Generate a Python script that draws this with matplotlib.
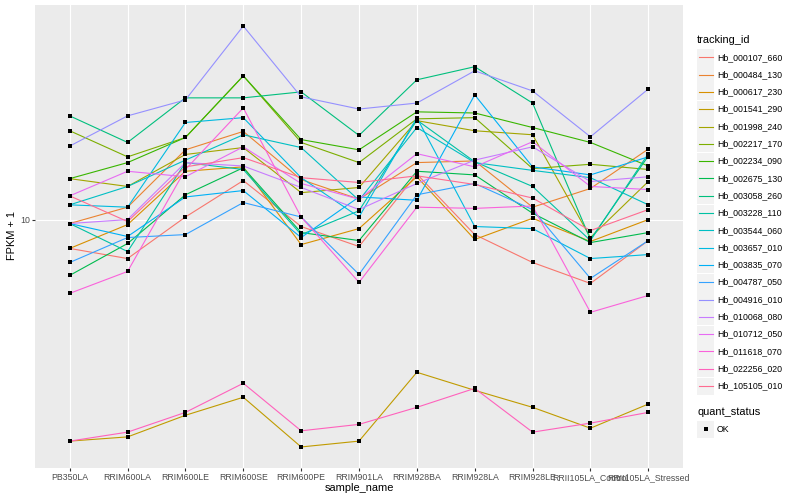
import numpy as np
import matplotlib
matplotlib.use("Agg")
import matplotlib.pyplot as plt
from matplotlib.patches import Rectangle
from matplotlib.lines import Line2D
from matplotlib.ticker import NullLocator

plt.rcParams['font.family'] = ['Liberation Sans', 'DejaVu Sans']

# samples on the x axis
samples = ["PB350LA", "RRIM600LA", "RRIM600LE", "RRIM600SE", "RRIM600PE",
           "RRIM901LA", "RRIM928BA", "RRIM928LA", "RRIM928LE",
           "RRII105LA_Control", "RRII105LA_Stressed"]

tracking_ids = ["Hb_000107_660", "Hb_000484_130", "Hb_000617_230", "Hb_001541_290",
                "Hb_001998_240", "Hb_002217_170", "Hb_002234_090", "Hb_002675_130",
                "Hb_003058_260", "Hb_003228_110", "Hb_003544_060", "Hb_003657_010",
                "Hb_003835_070", "Hb_004787_050", "Hb_004916_010", "Hb_010068_080",
                "Hb_010712_050", "Hb_011618_070", "Hb_022256_020", "Hb_105105_010"]

# ggplot hue palette, 20 levels
colors = ["#F8766D", "#EA8331", "#D89000", "#C09B00", "#A3A500", "#7CAE00",
          "#39B600", "#00BB4E", "#00BF7D", "#00C1A3", "#00BFC4", "#00BAE0",
          "#00B0F6", "#35A2FF", "#9590FF", "#C77CFF", "#E76BF3", "#FA62DB",
          "#FF62BC", "#FF6C91"]

# FPKM + 1 (one list per gene)
hb_000107_660 = [8.01, 7.41, 10.2, 13.5, 9.48, 8.13, 14.2, 8.91, 7.19, 6.12, 8.51]
hb_000484_130 = [9.70, 11.0, 17.1, 19.7, 13.6, 11.7, 15.5, 15.7, 11.0, 12.7, 17.2]
hb_000617_230 = [8.01, 9.62, 14.5, 15.0, 8.25, 9.33, 13.9, 8.58, 10.1, 8.45, 10.0]
hb_001541_290 = [1.82, 1.88, 2.22, 2.55, 1.74, 1.82, 3.09, 2.69, 2.36, 2.01, 2.42]
hb_001998_240 = [13.7, 12.9, 16.5, 17.4, 12.3, 12.8, 21.4, 19.8, 19.2, 8.71, 13.4]
hb_002217_170 = [19.8, 16.2, 18.8, 30.2, 18.1, 15.5, 21.7, 21.9, 14.8, 15.3, 14.7]
hb_002234_090 = [13.7, 15.5, 18.8, 30.2, 18.5, 17.1, 22.9, 22.7, 20.3, 18.1, 15.1]
hb_002675_130 = [6.51, 8.32, 12.1, 14.9, 9.05, 8.51, 14.5, 14.1, 10.5, 8.38, 9.05]
hb_003058_260 = [22.2, 18.1, 25.5, 25.5, 26.7, 19.1, 29.3, 32.4, 24.5, 8.58, 16.3]
hb_003228_110 = [9.70, 7.82, 15.5, 14.7, 8.91, 10.7, 21.5, 15.6, 12.9, 8.51, 16.6]
hb_003544_060 = [11.2, 12.9, 15.8, 19.2, 17.4, 11.6, 20.3, 15.5, 14.6, 13.8, 11.2]
hb_003657_010 = [11.2, 11.0, 21.1, 21.9, 13.8, 10.2, 21.9, 9.48, 9.33, 7.41, 7.64]
hb_003835_070 = [9.70, 8.78, 11.9, 12.5, 8.71, 11.9, 11.6, 26.1, 15.0, 14.1, 16.2]
hb_004787_050 = [7.19, 8.71, 8.91, 11.4, 10.2, 6.56, 12.1, 13.2, 10.8, 6.36, 8.51]
hb_004916_010 = [17.6, 22.2, 25.1, 44.3, 25.7, 23.4, 24.5, 31.4, 26.9, 18.9, 27.3]
hb_010068_080 = [9.70, 10.0, 15.5, 15.1, 12.8, 10.8, 13.2, 15.8, 17.5, 13.4, 13.9]
hb_010712_050 = [12.0, 14.5, 13.9, 17.5, 13.2, 11.7, 16.6, 15.0, 18.2, 12.9, 12.6]
hb_011618_070 = [5.67, 6.71, 14.7, 23.6, 10.2, 6.17, 11.0, 10.9, 11.1, 4.90, 5.58]
hb_022256_020 = [1.82, 1.95, 2.27, 2.84, 1.97, 2.07, 2.36, 2.73, 1.95, 2.09, 2.27]
hb_105105_010 = [12.0, 9.85, 15.0, 16.1, 13.8, 13.3, 14.0, 13.1, 11.8, 9.19, 10.8]

series = [hb_000107_660, hb_000484_130, hb_000617_230, hb_001541_290, hb_001998_240,
          hb_002217_170, hb_002234_090, hb_002675_130, hb_003058_260, hb_003228_110,
          hb_003544_060, hb_003657_010, hb_003835_070, hb_004787_050, hb_004916_010,
          hb_010068_080, hb_010712_050, hb_011618_070, hb_022256_020, hb_105105_010]

W, H = 800, 500
fig = plt.figure(figsize=(8, 5), dpi=100)
ax = fig.add_axes([35 / W, 32 / H, 648 / W, 463 / H])
ax.set_facecolor("#EBEBEB")
for s in ax.spines.values():
    s.set_visible(False)

x = np.arange(len(samples))
for vals, c in zip(series, colors):
    ax.plot(x, vals, color=c, lw=0.8, zorder=2)
for vals in series:
    ax.plot(x, vals, ls="none", marker="s", ms=2.5, mew=0, color="black", zorder=3)

ax.set_yscale("log")
allv = np.concatenate([np.log10(v) for v in series])
lo, hi = allv.min(), allv.max()
pad = 0.05 * (hi - lo)
ax.set_ylim(10 ** (lo - pad), 10 ** (hi + pad))
ax.set_xlim(-0.6, len(samples) - 0.4)

ax.set_yticks([10])
ax.set_yticklabels(["10"])
ax.yaxis.set_minor_locator(NullLocator())
ax.set_xticks(x)
ax.set_xticklabels(samples)
ax.grid(True, which="major", color="white", lw=0.8)
ax.set_axisbelow(True)
ax.tick_params(colors="#333333", labelcolor="#4D4D4D", length=2, width=0.8,
               labelsize=6.3, pad=1.6)

fig.text(359 / W, 1 - 488 / H, "sample_name", fontsize=7.9, ha="center", va="center")
fig.text(12 / W, 1 - 236 / H, "FPKM + 1", fontsize=7.9, ha="center", va="center",
         rotation=90)

# legend: tracking_id
fig.text(697 / W, 1 - 40 / H, "tracking_id", fontsize=7.9, va="center", ha="left")
for i, (name, c) in enumerate(zip(tracking_ids, colors)):
    yc = 57.3 + 17.3 * i
    fig.add_artist(Rectangle((697 / W, 1 - (yc + 8.5) / H), 17 / W, 17 / H,
                             transform=fig.transFigure, facecolor="#F2F2F2",
                             edgecolor="none"))
    fig.add_artist(Line2D([698.5 / W, 712.5 / W], [1 - yc / H] * 2,
                          transform=fig.transFigure, color=c, lw=0.8))
    fig.text(717 / W, 1 - yc / H, name, fontsize=6.3, va="center", ha="left")

# legend: quant_status
fig.text(697 / W, 1 - 412 / H, "quant_status", fontsize=7.9, va="center", ha="left")
fig.add_artist(Rectangle((697 / W, 1 - (429 + 8.5) / H), 17 / W, 17 / H,
                         transform=fig.transFigure, facecolor="#F2F2F2",
                         edgecolor="none"))
fig.add_artist(Line2D([705.5 / W], [1 - 429 / H], transform=fig.transFigure,
                      ls="none", marker="s", ms=2.5, mew=0, color="black"))
fig.text(717 / W, 1 - 429 / H, "OK", fontsize=6.3, va="center", ha="left")

fig.savefig("out.png", dpi=100)
